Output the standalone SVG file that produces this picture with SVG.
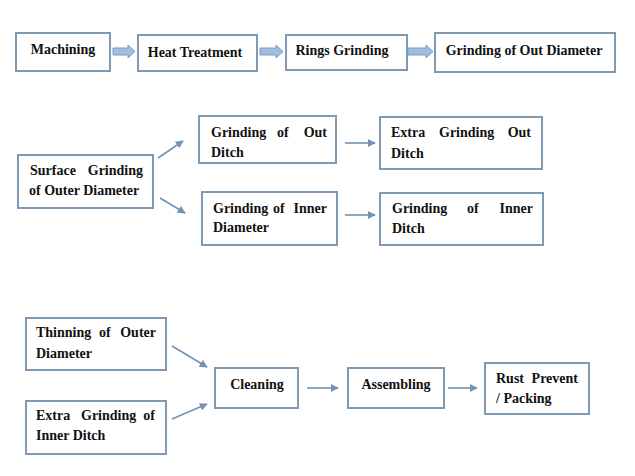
<svg xmlns="http://www.w3.org/2000/svg" width="635" height="476" viewBox="0 0 635 476">
<defs>
<style>
.box{fill:#ffffff;stroke:#7f9ab4;stroke-width:2}
.t{font-family:'Liberation Serif','Times New Roman',serif;font-size:14px;font-weight:700;fill:#111}
.c{text-anchor:middle}
.fat{fill:#9fbde0;stroke:#7b9bc1;stroke-width:1}
.ln{stroke:#7393b4;stroke-width:1.6;fill:none;marker-end:url(#ah)}
</style>
<marker id="ah" viewBox="0 0 10 10" refX="9" refY="5" markerWidth="5" markerHeight="5" orient="auto" markerUnits="strokeWidth">
<path d="M0,0 L10,5 L0,10 z" fill="#7393b4"/>
</marker>
</defs>
<rect width="635" height="476" fill="#ffffff"/>

<g id="machining"><rect class="box" x="16" y="33" width="94" height="38"/><text class="t c" x="63" y="54">Machining</text></g>
<g id="heat"><rect class="box" x="138" y="35" width="119" height="36"/><text class="t c" x="195" y="57">Heat Treatment</text></g>
<g id="rings"><rect class="box" x="286" y="35" width="121" height="35"/><text class="t c" x="342" y="55">Rings Grinding</text></g>
<g id="outdia"><rect class="box" x="435" y="33" width="180" height="39"/><text class="t c" x="524" y="55">Grinding of Out Diameter</text></g>

<g id="surface"><rect class="box" x="18" y="155" width="135" height="53"/>
<text class="t" y="175"><tspan x="30">Surface</tspan><tspan x="143" text-anchor="end">Grinding</tspan></text>
<text class="t" x="29" y="195">of Outer Diameter</text></g>
<g id="outditch"><rect class="box" x="199" y="116" width="137" height="47"/>
<text class="t" y="137"><tspan x="211">Grinding</tspan><tspan x="277">of</tspan><tspan x="327" text-anchor="end">Out</tspan></text>
<text class="t" x="211" y="157">Ditch</text></g>
<g id="innerdia"><rect class="box" x="202" y="192" width="135" height="53"/>
<text class="t" y="213"><tspan x="213">Grinding</tspan><tspan x="273">of</tspan><tspan x="327" text-anchor="end">Inner</tspan></text>
<text class="t" x="213" y="232">Diameter</text></g>
<g id="extraout"><rect class="box" x="380" y="117" width="162" height="52"/>
<text class="t" y="137"><tspan x="391">Extra</tspan><tspan x="439">Grinding</tspan><tspan x="531" text-anchor="end">Out</tspan></text>
<text class="t" x="391" y="158">Ditch</text></g>
<g id="innerditch"><rect class="box" x="380" y="193" width="163" height="52"/>
<text class="t" y="213"><tspan x="392">Grinding</tspan><tspan x="467">of</tspan><tspan x="533" text-anchor="end">Inner</tspan></text>
<text class="t" x="392" y="233">Ditch</text></g>

<g id="thinning"><rect class="box" x="26" y="318" width="140" height="52"/>
<text class="t" y="337"><tspan x="36">Thinning</tspan><tspan x="99">of</tspan><tspan x="156" text-anchor="end">Outer</tspan></text>
<text class="t" x="36" y="358">Diameter</text></g>
<g id="extrainner"><rect class="box" x="26" y="401" width="140" height="53"/>
<text class="t" y="420"><tspan x="36">Extra</tspan><tspan x="81">Grinding</tspan><tspan x="155" text-anchor="end">of</tspan></text>
<text class="t" x="36" y="440">Inner Ditch</text></g>
<g id="cleaning"><rect class="box" x="215" y="368" width="83" height="40"/><text class="t c" x="257" y="389">Cleaning</text></g>
<g id="assembling"><rect class="box" x="348" y="368" width="96" height="40"/><text class="t c" x="396" y="389">Assembling</text></g>
<g id="rust"><rect class="box" x="485" y="363" width="104" height="51"/>
<text class="t" y="383"><tspan x="496">Rust</tspan><tspan x="578" text-anchor="end">Prevent</tspan></text>
<text class="t" x="496" y="403">/ Packing</text></g>

<g id="connectors">
<path class="fat" d="M113,48 H128 V45 L135,51.5 L128,58 V55 H113 z"/>
<path class="fat" d="M260,48 H276 V45 L283,51.5 L276,58 V55 H260 z"/>
<path class="fat" d="M408,48 H426 V45 L433,51.5 L426,58 V55 H408 z"/>
<line class="ln" x1="158" y1="158" x2="183" y2="141"/>
<line class="ln" x1="160" y1="198" x2="185" y2="213"/>
<line class="ln" x1="345" y1="143" x2="375" y2="143"/>
<line class="ln" x1="345" y1="215" x2="375" y2="215"/>
<line class="ln" x1="172" y1="346" x2="207" y2="367"/>
<line class="ln" x1="172" y1="419" x2="207" y2="404"/>
<line class="ln" x1="307" y1="388" x2="338" y2="388"/>
<line class="ln" x1="448" y1="388" x2="477" y2="388"/>
</g>
</svg>
